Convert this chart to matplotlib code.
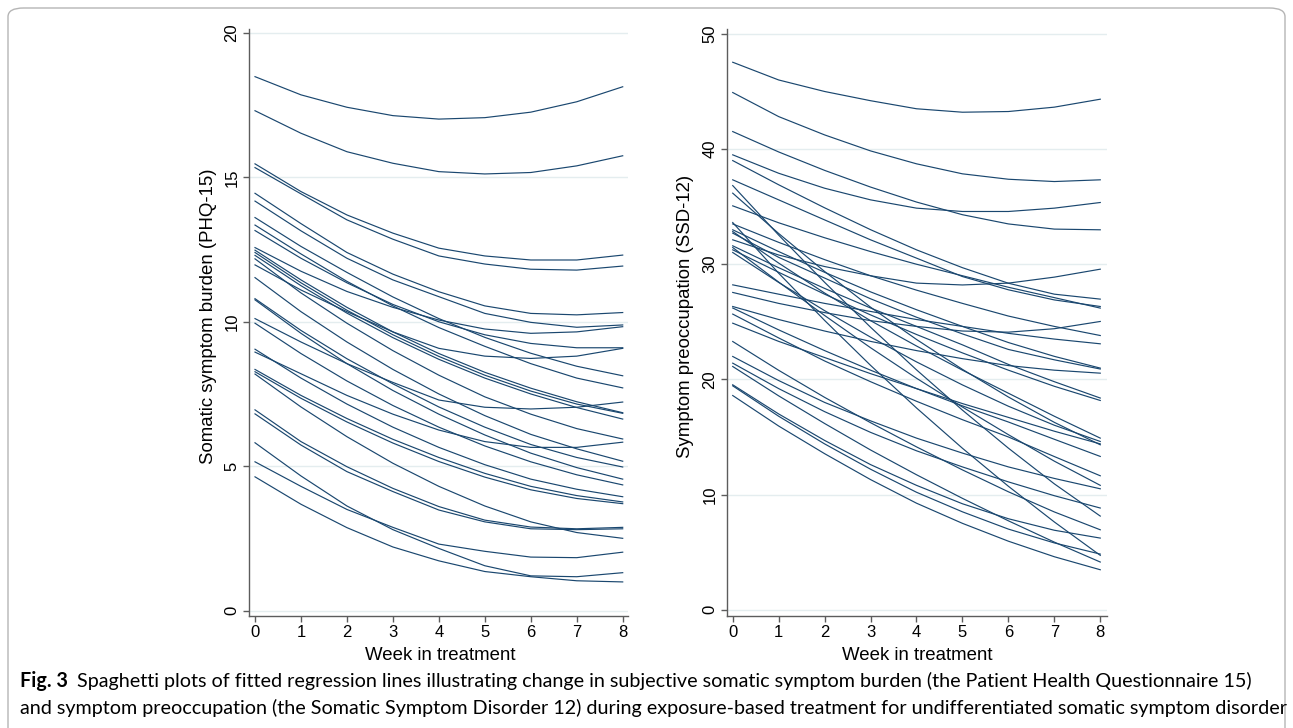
import matplotlib
matplotlib.use("Agg")
import matplotlib.pyplot as plt
from matplotlib.patches import FancyBboxPatch

weeks = [0, 1, 2, 3, 4, 5, 6, 7, 8]

# Somatic symptom burden (PHQ-15): fitted values per patient, weeks 0..8
phq15_lines = [
    [18.49, 17.86, 17.43, 17.14, 17.02, 17.07, 17.26, 17.62, 18.14],
    [17.31, 16.53, 15.89, 15.49, 15.20, 15.12, 15.17, 15.40, 15.75],
    [15.47, 14.51, 13.70, 13.07, 12.55, 12.28, 12.14, 12.14, 12.31],
    [15.34, 14.43, 13.53, 12.86, 12.28, 12.00, 11.82, 11.79, 11.93],
    [14.45, 13.40, 12.40, 11.65, 11.04, 10.55, 10.29, 10.24, 10.32],
    [14.18, 13.15, 12.20, 11.45, 10.87, 10.29, 9.98, 9.81, 9.89],
    [13.61, 12.61, 11.71, 10.86, 10.11, 9.46, 8.91, 8.46, 8.13],
    [13.35, 12.35, 11.40, 10.55, 9.80, 9.15, 8.55, 8.05, 7.71],
    [13.16, 12.20, 11.35, 10.60, 10.00, 9.55, 9.25, 9.10, 9.10],
    [12.57, 11.75, 11.05, 10.50, 10.06, 9.75, 9.60, 9.65, 9.83],
    [12.48, 11.45, 10.50, 9.65, 8.90, 8.25, 7.70, 7.23, 6.85],
    [12.40, 11.35, 10.40, 9.55, 8.80, 8.15, 7.60, 7.15, 6.83],
    [12.30, 11.25, 10.30, 9.45, 8.70, 8.05, 7.50, 7.03, 6.63],
    [12.18, 11.00, 9.95, 9.00, 8.15, 7.40, 6.80, 6.30, 5.94],
    [11.97, 11.10, 10.35, 9.65, 9.08, 8.81, 8.73, 8.81, 9.08],
    [11.53, 10.35, 9.30, 8.35, 7.50, 6.75, 6.10, 5.60, 5.17],
    [10.80, 9.70, 8.72, 7.85, 7.05, 6.35, 5.75, 5.30, 4.97],
    [10.76, 9.60, 8.55, 7.62, 6.80, 6.08, 5.45, 4.95, 4.55],
    [10.11, 9.30, 8.55, 7.90, 7.29, 7.04, 6.98, 7.04, 7.22],
    [9.95, 8.90, 7.95, 7.10, 6.35, 5.70, 5.15, 4.70, 4.35],
    [9.05, 8.05, 7.15, 6.35, 5.65, 5.05, 4.55, 4.20, 3.94],
    [8.95, 8.20, 7.45, 6.80, 6.25, 5.85, 5.65, 5.65, 5.83],
    [8.35, 7.45, 6.65, 5.93, 5.30, 4.75, 4.30, 3.98, 3.76],
    [8.27, 7.35, 6.53, 5.80, 5.16, 4.62, 4.18, 3.88, 3.70],
    [8.19, 7.05, 6.02, 5.10, 4.30, 3.62, 3.07, 2.70, 2.50],
    [6.95, 5.85, 4.98, 4.23, 3.60, 3.13, 2.89, 2.83, 2.88],
    [6.81, 5.73, 4.81, 4.12, 3.48, 3.07, 2.83, 2.80, 2.83],
    [5.81, 4.66, 3.62, 2.80, 2.15, 1.55, 1.20, 1.17, 1.31],
    [5.15, 4.30, 3.50, 2.88, 2.30, 2.05, 1.85, 1.83, 2.02],
    [4.63, 3.68, 2.87, 2.20, 1.72, 1.35, 1.17, 1.03, 0.99],
]

# Symptom preoccupation (SSD-12): fitted values per patient, weeks 0..8
ssd12_lines = [
    [47.54, 46.00, 45.00, 44.20, 43.50, 43.20, 43.26, 43.64, 44.33],
    [44.91, 42.82, 41.23, 39.84, 38.72, 37.85, 37.38, 37.18, 37.33],
    [41.52, 39.75, 38.15, 36.70, 35.40, 34.30, 33.50, 33.05, 32.99],
    [39.50, 37.90, 36.60, 35.59, 34.87, 34.58, 34.58, 34.87, 35.36],
    [39.00, 36.90, 34.90, 33.00, 31.25, 29.70, 28.35, 27.40, 26.97],
    [37.33, 35.59, 33.85, 32.12, 30.53, 28.93, 27.78, 26.90, 26.33],
    [36.83, 32.53, 28.43, 24.53, 20.83, 17.33, 14.03, 10.93, 8.13],
    [36.17, 32.67, 29.37, 26.27, 23.47, 20.87, 18.47, 16.27, 14.32],
    [35.07, 33.60, 32.30, 31.10, 30.00, 29.00, 28.00, 27.10, 26.19],
    [33.62, 29.22, 25.12, 21.22, 17.52, 14.02, 10.72, 7.62, 4.72],
    [33.50, 31.90, 30.40, 29.00, 27.75, 26.60, 25.50, 24.60, 23.81],
    [32.99, 31.10, 29.30, 27.60, 26.05, 24.60, 23.20, 22.00, 20.98],
    [32.84, 30.10, 27.50, 25.10, 22.90, 20.80, 18.80, 16.80, 14.90],
    [32.70, 30.60, 28.80, 27.00, 25.40, 23.95, 22.60, 21.70, 20.90],
    [32.12, 30.80, 29.80, 29.00, 28.36, 28.20, 28.36, 28.88, 29.57],
    [31.60, 29.70, 27.90, 26.20, 24.60, 23.00, 21.30, 19.80, 18.38],
    [31.45, 28.45, 25.55, 22.75, 20.10, 17.60, 15.20, 12.90, 10.80],
    [31.25, 29.30, 27.40, 25.60, 23.90, 22.30, 20.80, 19.40, 18.17],
    [31.02, 28.42, 25.97, 23.67, 21.52, 19.52, 17.67, 16.02, 14.61],
    [28.21, 27.40, 26.60, 25.90, 25.20, 24.60, 24.00, 23.50, 23.09],
    [27.55, 26.60, 25.80, 25.10, 24.60, 24.20, 24.10, 24.40, 25.03],
    [26.33, 25.20, 24.20, 23.30, 22.50, 21.80, 21.20, 20.80, 20.54],
    [26.20, 24.30, 22.50, 20.80, 19.20, 17.70, 16.30, 14.80, 13.31],
    [25.67, 23.60, 21.60, 19.80, 18.10, 16.50, 15.00, 13.30, 11.63],
    [24.88, 23.30, 21.90, 20.50, 19.20, 17.90, 16.70, 15.50, 14.40],
    [23.29, 20.79, 18.44, 16.24, 14.14, 12.14, 10.24, 8.49, 6.94],
    [21.99, 19.90, 18.00, 16.40, 14.90, 13.60, 12.40, 11.40, 10.50],
    [21.41, 19.20, 17.20, 15.40, 13.80, 12.40, 11.10, 9.90, 8.83],
    [21.12, 18.57, 16.17, 13.87, 11.72, 9.67, 7.72, 5.87, 4.14],
    [19.53, 17.00, 14.70, 12.60, 10.80, 9.20, 7.90, 6.90, 6.22],
    [19.44, 16.80, 14.40, 12.20, 10.20, 8.50, 7.00, 5.80, 4.83],
    [18.60, 15.95, 13.55, 11.30, 9.25, 7.50, 5.95, 4.60, 3.47],
]

phq15_yticks = [0, 5, 10, 15, 20]
ssd12_yticks = [0, 10, 20, 30, 40, 50]
x_label = "Week in treatment"
phq15_label = "Somatic symptom burden (PHQ-15)"
ssd12_label = "Symptom preoccupation (SSD-12)"
caption_bold = "Fig. 3"
caption_line1 = ("Spaghetti plots of fitted regression lines illustrating change in subjective "
                 "somatic symptom burden (the Patient Health Questionnaire 15)")
caption_line2 = ("and symptom preoccupation (the Somatic Symptom Disorder 12) during "
                 "exposure-based treatment for undifferentiated somatic symptom disorder")

# ---------------------------------------------------------------- styling
W, H = 1293, 728
LINE = "#1a476f"
GRID = "#e4edef"
SPINE = "#5c5c5c"
AXFONT = "Liberation Sans"

fig = plt.figure(figsize=(W / 100, H / 100), dpi=100)
fig.patch.set_facecolor("white")


def rect(l, r, t, b):
    return [l / W, 1 - b / H, (r - l) / W, (b - t) / H]


def style(ax, lines, yticks, xlim, ylim):
    for vals in lines:
        ax.plot(weeks, vals, color=LINE, lw=0.85, solid_joinstyle="round")
    ax.set_xlim(*xlim)
    ax.set_ylim(*ylim)
    ax.set_xticks(weeks)
    ax.set_yticks(yticks)
    ax.yaxis.grid(True, color=GRID, lw=1.0)
    ax.set_axisbelow(True)
    for s in ("top", "right"):
        ax.spines[s].set_visible(False)
    for s in ("left", "bottom"):
        ax.spines[s].set_color(SPINE)
        ax.spines[s].set_linewidth(1.0)
    ax.tick_params(axis="both", direction="out", length=4, width=1.0,
                   color=SPINE, labelsize=12, pad=3)
    for lab in ax.get_xticklabels() + ax.get_yticklabels():
        lab.set_fontfamily(AXFONT)
    for lab in ax.get_yticklabels():
        lab.set_rotation(90)
        lab.set_va("center")
        lab.set_ha("right")


ax1 = fig.add_axes(rect(249.3, 628, 29.3, 615.7))
style(ax1, phq15_lines, phq15_yticks, (-0.124, 8.115), (-0.18, 20.13))
ax2 = fig.add_axes(rect(727.3, 1106.7, 29.3, 615.7))
style(ax2, ssd12_lines, ssd12_yticks, (-0.118, 8.14), (-0.52, 50.4))

# axis titles
fig.text(440 / W, 1 - 655 / H, x_label, ha="center", va="center",
         fontsize=13.4, family=AXFONT)
fig.text(917 / W, 1 - 655 / H, x_label, ha="center", va="center",
         fontsize=13.4, family=AXFONT)
fig.text(208 / W, 1 - 316 / H, phq15_label, ha="center", va="center",
         rotation=90, fontsize=13.4, family=AXFONT)
fig.text(685 / W, 1 - 316 / H, ssd12_label, ha="center", va="center",
         rotation=90, fontsize=13.4, family=AXFONT)

# caption
CAPFONT = "Lato"
fig.canvas.draw()
r = fig.canvas.get_renderer()
t2 = fig.text(20 / W, 1 - 708 / H, caption_line2, ha="left", va="center",
              fontsize=12, family=CAPFONT)
w = t2.get_window_extent(r).width
size = 12 * 1263 / w
t2.set_fontsize(size)
tb = fig.text(20 / W, 1 - 681 / H, caption_bold, ha="left", va="center",
              fontsize=size, family=CAPFONT, weight="bold")
t1 = fig.text(77 / W, 1 - 681 / H, caption_line1, ha="left", va="center",
              fontsize=size, family=CAPFONT)

# rounded frame around the figure
frame = FancyBboxPatch((8 / W, -0.05), (1285 - 8) / W, (1 - 8 / H) + 0.05,
                       boxstyle="round,pad=0,rounding_size=0.012",
                       transform=fig.transFigure, fill=False,
                       edgecolor="#b5b5b5", lw=1.0, zorder=-1)
fig.patches.append(frame)

fig.savefig("out.png", dpi=100, facecolor="white")
